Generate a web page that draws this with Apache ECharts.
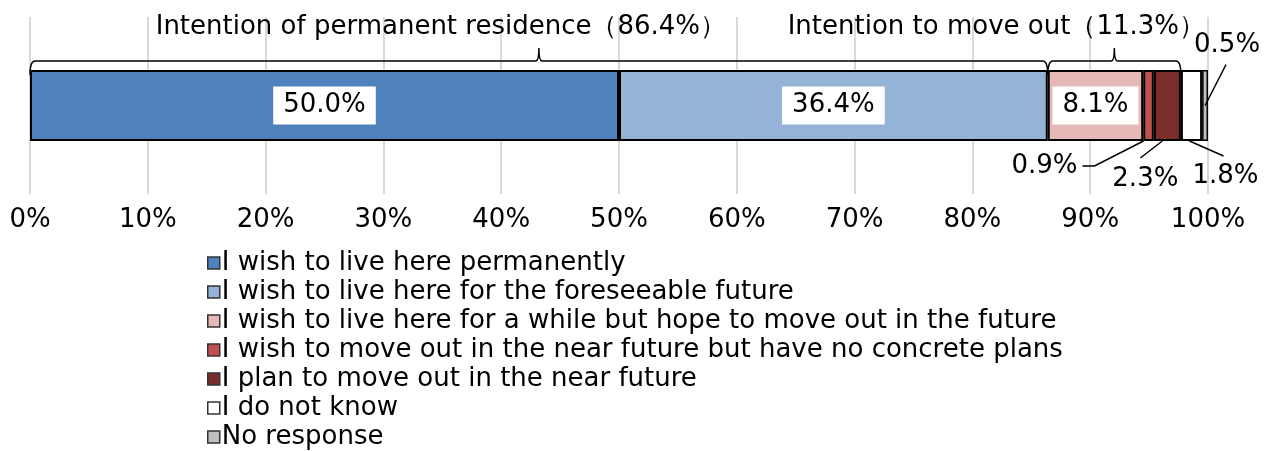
<!DOCTYPE html>
<html>
<head>
<meta charset="utf-8">
<script src="https://cdn.jsdelivr.net/npm/echarts@6/dist/echarts.min.js"></script>
<style>
  html, body { margin: 0; padding: 0; background: #fff; }
  #chart { width: 1271px; height: 451px; }
</style>
</head>
<body>
<div id="chart"></div>
<script>
// 数据
var seriesNames = [
    'I wish to live here permanently',
    'I wish to live here for the foreseeable future',
    'I wish to live here for a while but hope to move out in the future',
    'I wish to move out in the near future but have no concrete plans',
    'I plan to move out in the near future',
    'I do not know',
    'No response'
];
var seriesValues = [50.0, 36.4, 8.1, 0.9, 2.3, 1.8, 0.5];
var groupNames = ['Intention of permanent residence（86.4%）', 'Intention to move out（11.3%）'];
var groupRanges = [[0, 86.4], [86.4, 97.7]];
var xTicks = [0, 10, 20, 30, 40, 50, 60, 70, 80, 90, 100];

// 样式
var colors = ['#4f81bd', '#95b3d7', '#e6b9b8', '#c0504d', '#7b2d2c', '#ffffff', '#bfbfbf'];
var font = 'DejaVu Sans';
var fs = 26;
// 小数值标签的位置 (相对柱子)
var callouts = {
    3: { anchor: 'bottom', pts: [[-5, 0], [-54, 25], [-66, 25]], text: [-71, 25, 'right'] },
    4: { anchor: 'bottom', pts: [[-5, 0], [-27, 17]], text: [-22, 38, 'center'] },
    5: { anchor: 'bottom', pts: [[-2, 0], [32, 15]], text: [34, 35, 'center'] },
    6: { anchor: 'mid', pts: [[0, 0], [21, -41]], text: [22, -60, 'center'] }
};

var chart = echarts.init(document.getElementById('chart'));

var series = seriesValues.map(function (v, i) {
    var big = i < 3;
    return {
        name: seriesNames[i],
        type: 'bar',
        stack: 'total',
        barWidth: 71,
        data: [v],
        itemStyle: { color: colors[i], borderColor: '#000', borderWidth: i === 6 ? 1.5 : 2 },
        label: {
            show: big,
            position: 'inside',
            backgroundColor: '#fff',
            padding: [7, 10, 5, 10],
            color: '#000',
            fontFamily: font,
            fontSize: fs,
            formatter: function (p) { return p.value.toFixed(1) + '%'; }
        },
        emphasis: { disabled: true }
    };
});

// 括号 + 组标签
series.push({
    type: 'custom',
    silent: true,
    data: groupRanges.map(function (r, i) { return [r[0], r[1], i]; }),
    renderItem: function (params, api) {
        var a = api.coord([api.value(0), 0]);
        var b = api.coord([api.value(1), 0]);
        var i = api.value(2);
        var top = a[1] - 35.5;
        var y = top - 9;
        var mid = (a[0] + b[0]) / 2;
        var d = 'M' + a[0] + ' ' + (top + 5) + ' Q' + a[0] + ' ' + y + ' ' + (a[0] + 5) + ' ' + y +
            ' L' + (mid - 3) + ' ' + y + ' Q' + mid + ' ' + y + ' ' + mid + ' ' + (y - 13) +
            ' Q' + mid + ' ' + y + ' ' + (mid + 3) + ' ' + y +
            ' L' + (b[0] - 5) + ' ' + y + ' Q' + b[0] + ' ' + y + ' ' + b[0] + ' ' + (top + 5);
        var textShift = [-98, -118][i];
        return {
            type: 'group',
            children: [
                { type: 'path', shape: { pathData: d }, style: { fill: null, stroke: '#000', lineWidth: 1.5 } },
                {
                    type: 'text',
                    style: {
                        text: groupNames[i], x: mid + textShift, y: top - 43,
                        align: 'center', verticalAlign: 'middle',
                        font: fs + 'px "' + font + '"', fill: '#000'
                    }
                }
            ]
        };
    },
    z: 5
});

// 小数值标签 + 引导线
var cum = [];
seriesValues.reduce(function (s, v, i) { cum[i] = [s, s + v]; return s + v; }, 0);
series.push({
    type: 'custom',
    silent: true,
    data: Object.keys(callouts).map(function (k) { return [cum[k][0], cum[k][1], +k]; }),
    renderItem: function (params, api) {
        var k = api.value(2);
        var a = api.coord([api.value(0), 0]);
        var b = api.coord([api.value(1), 0]);
        var c = callouts[k];
        var ox = (a[0] + b[0]) / 2;
        var oy = c.anchor === 'bottom' ? a[1] + 35.5 : a[1];
        var pts = c.pts.map(function (p) { return [ox + p[0], oy + p[1]]; });
        return {
            type: 'group',
            children: [
                { type: 'polyline', shape: { points: pts }, style: { fill: null, stroke: '#000', lineWidth: 1.5 } },
                {
                    type: 'text',
                    style: {
                        text: seriesValues[k].toFixed(1) + '%', x: ox + c.text[0], y: oy + c.text[1],
                        align: c.text[2], verticalAlign: 'middle',
                        font: fs + 'px "' + font + '"', fill: '#000'
                    }
                }
            ]
        };
    },
    z: 5
});

var option = {
    animation: false,
    textStyle: { fontFamily: font },
    grid: { left: 30, right: 63, top: 17, bottom: 257 },
    legend: {
        orient: 'vertical',
        left: 202,
        top: 245,
        height: 210,
        itemWidth: 12,
        itemHeight: 12,
        itemGap: 3,
        itemStyle: { borderColor: '#333', borderWidth: 1.5 },
        icon: 'rect',
        selectedMode: false,
        textStyle: { fontFamily: font, fontSize: fs, color: '#000', padding: [0, 0, 0, -3] },
        data: seriesNames
    },
    xAxis: {
        type: 'value',
        min: xTicks[0],
        max: xTicks[xTicks.length - 1],
        interval: xTicks[1] - xTicks[0],
        axisLine: { show: false },
        axisTick: { show: false },
        axisLabel: { formatter: '{value}%', fontSize: fs, color: '#000', margin: 13, fontFamily: font },
        splitLine: { lineStyle: { color: '#d9d9d9', width: 2 } }
    },
    yAxis: {
        type: 'category',
        data: [''],
        show: false
    },
    series: series
};
chart.setOption(option);
window.addEventListener('resize', function () { chart.resize(); });
</script>
</body>
</html>
